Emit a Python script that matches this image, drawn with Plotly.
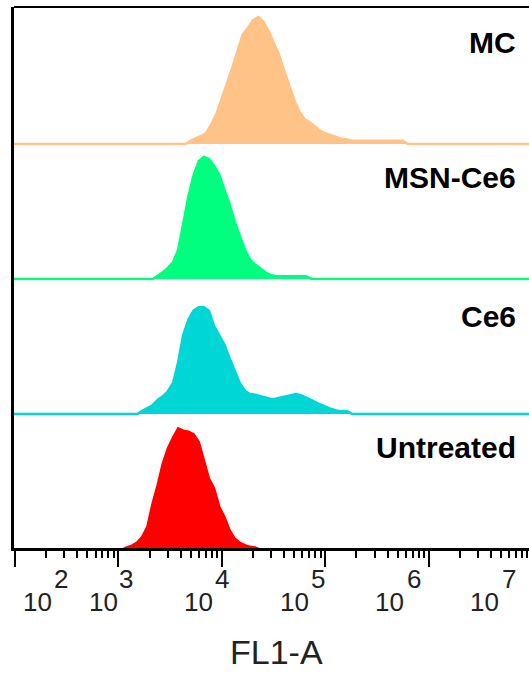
import plotly.graph_objects as go

# ---------------- data (log10 FL1-A bin centres, counts normalised to mode-ish units) ----------------
MC_X = [3.65, 3.70, 3.75, 3.80, 3.85, 3.90, 3.95, 4.00, 4.05, 4.10, 4.15, 4.20, 4.25, 4.30, 4.35,
        4.40, 4.45, 4.50, 4.55, 4.60, 4.65, 4.70, 4.75, 4.80, 4.85, 4.90, 4.95, 5.00, 5.05, 5.10,
        5.15, 5.20, 5.25, 5.30, 5.35, 5.40, 5.45, 5.50, 5.55, 5.60, 5.65, 5.70, 5.75, 5.80]
MC_Y = [0, 2.6, 4.5, 6.3, 8.9, 15.8, 24.2, 35.3, 47.9, 59.7, 72.9, 86.0, 91.3, 97.3, 100.0,
        96.5, 89.4, 80.0, 71.0, 58.4, 46.6, 34.7, 25.5, 19.5, 17.1, 13.7, 10.5, 8.4, 7.3, 5.8,
        4.2, 3.7, 2.6, 2.6, 2.6, 2.6, 2.6, 2.6, 2.6, 2.6, 2.6, 2.6, 2.6, 0]

MSN_X = [3.330, 3.379, 3.429, 3.478, 3.528, 3.578, 3.627, 3.677, 3.726, 3.776, 3.826, 3.875,
         3.925, 3.975, 4.024, 4.074, 4.123, 4.173, 4.223, 4.272, 4.322, 4.371, 4.421, 4.471,
         4.520, 4.570, 4.619, 4.669, 4.719, 4.768, 4.818, 4.867]
MSN_Y = [0, 2.6, 5.3, 8.7, 13.1, 23.1, 44.1, 65.1, 81.3, 92.7, 96.1, 94.5,
         89.2, 82.1, 70.3, 59.3, 45.4, 33.6, 23.1, 15.2, 11.3, 8.4, 5.3, 3.1,
         2.1, 2.1, 2.1, 2.1, 2.1, 2.1, 2.1, 0]

CE6_X = [3.181, 3.230, 3.280, 3.330, 3.379, 3.429, 3.478, 3.528, 3.578, 3.627, 3.677, 3.726,
         3.776, 3.826, 3.875, 3.925, 3.975, 4.024, 4.074, 4.123, 4.173, 4.223, 4.272, 4.322,
         4.371, 4.421, 4.471, 4.520, 4.570, 4.619, 4.669, 4.719, 4.768, 4.818, 4.867, 4.917,
         4.967, 5.016, 5.066, 5.116, 5.165, 5.215, 5.264]
CE6_Y = [0, 2.6, 4.7, 6.9, 11.0, 13.9, 17.9, 24.4, 40.9, 62.4, 74.3, 81.3,
         84.0, 84.0, 81.3, 69.1, 62.0, 54.6, 44.1, 33.6, 24.4, 18.3, 15.7, 15.2,
         14.4, 13.1, 11.8, 12.0, 13.1, 13.9, 15.2, 15.7, 14.7, 13.1, 11.0, 8.7,
         6.9, 5.3, 3.7, 2.6, 2.1, 2.1, 0]

UNT_X = [3.032, 3.081, 3.131, 3.181, 3.230, 3.280, 3.330, 3.379, 3.429, 3.478, 3.528, 3.578,
         3.627, 3.677, 3.726, 3.776, 3.826, 3.875, 3.925, 3.975, 4.024, 4.074, 4.123, 4.173,
         4.223, 4.272, 4.322, 4.371]
UNT_Y = [0, 1.6, 3.1, 5.5, 10.0, 17.9, 36.2, 50.6, 67.7, 79.5, 88.2, 95.3,
         93.5, 92.7, 90.8, 84.8, 69.1, 55.9, 48.0, 33.6, 25.7, 15.2, 8.7, 5.3,
         3.4, 2.1, 1.6, 0]

SAMPLE_NAMES = ["MC", "MSN-Ce6", "Ce6", "Untreated"]
TICK_BASE = ["10", "10", "10", "10", "10", "10"]
TICK_EXP = ["2", "3", "4", "5", "6", "7"]
X_TITLE = "FL1-A"

# ---------------- styling / layout ----------------
COLORS = ["#FFC387", "#00FF7F", "#00D6D6", "#FF0000"]
X_RANGE = [1.99, 6.97]
SCALE_EDGES = (1.9, 7.1)
DOMAINS = [[0.744, 1.0], [0.4945, 0.744], [0.2449, 0.4945], [0.0, 0.2449]]
YRANGES = [[-1.18, 107.9], [-1.18, 105.1], [-1.18, 105.1], [1.2, 105.5]]
LABEL_Y = [0.9335, 0.6848, 0.4288, 0.1858]
BASE_POS = [2.221, 2.857, 3.771, 4.700, 5.619, 6.538]
EXP_POS = [2.446, 3.077, 4.005, 4.930, 5.858, 6.777]
MID_TICKS = [5e2, 5e3, 5e4, 5e5, 5e6]
FONT = "Arial, Liberation Sans, sans-serif"

series = [(MC_X, MC_Y), (MSN_X, MSN_Y), (CE6_X, CE6_Y), (UNT_X, UNT_Y)]

fig = go.Figure()
for i, (xs, ys) in enumerate(series):
    yname = "y" if i == 0 else f"y{i+1}"
    xx = [SCALE_EDGES[0]] + list(xs) + [SCALE_EDGES[1]]
    yy = [0] + list(ys) + [0]
    fig.add_trace(go.Scatter(
        x=[10 ** v for v in xx], y=yy, mode="lines",
        line=dict(color=COLORS[i], width=2.5),
        fill="tozeroy", fillcolor=COLORS[i],
        xaxis="x", yaxis=yname, showlegend=False, hoverinfo="skip",
        name=SAMPLE_NAMES[i],
    ))

layout = dict(
    width=529, height=673,
    margin=dict(l=14, r=0, t=7, b=125),
    paper_bgcolor="white", plot_bgcolor="white",
    showlegend=False,
    font=dict(family=FONT, color="black"),
    xaxis=dict(
        type="log", range=X_RANGE, anchor="y4",
        showline=True, linecolor="black", linewidth=3,
        ticks="outside", ticklen=16, tickwidth=2, tickcolor="black",
        dtick=1, tick0=0, showticklabels=False,
        showgrid=False, zeroline=False,
        minor=dict(ticks="outside", ticklen=7, tickwidth=1.5, tickcolor="black",
                   dtick="D1", showgrid=False),
    ),
    xaxis2=dict(
        type="log", range=X_RANGE, anchor="y4", overlaying="x",
        showline=True, linecolor="black", linewidth=3,
        ticks="outside", ticklen=11, tickwidth=1.5, tickcolor="black",
        tickmode="array", tickvals=MID_TICKS, showticklabels=False,
        showgrid=False, zeroline=False,
    ),
)
for i in range(4):
    key = "yaxis" if i == 0 else f"yaxis{i+1}"
    layout[key] = dict(
        domain=DOMAINS[i], range=YRANGES[i], anchor="x",
        showline=True, linecolor="black", linewidth=3,
        showticklabels=False, ticks="", showgrid=False, zeroline=False,
    )

annotations = []
for i, name in enumerate(SAMPLE_NAMES):
    annotations.append(dict(
        text="<b>%s</b>" % name, xref="paper", yref="paper",
        x=0.9777, y=LABEL_Y[i], xanchor="right", yanchor="middle",
        showarrow=False, font=dict(size=30, color="black", family=FONT),
    ))
for b, e, bp, ep in zip(TICK_BASE, TICK_EXP, BASE_POS, EXP_POS):
    annotations.append(dict(
        text=b, xref="x", yref="paper", x=bp, y=-0.1007,
        xanchor="center", yanchor="middle", showarrow=False,
        font=dict(size=26, color="#222222", family=FONT),
    ))
    annotations.append(dict(
        text=e, xref="x", yref="paper", x=ep, y=-0.0582,
        xanchor="center", yanchor="middle", showarrow=False,
        font=dict(size=26, color="#222222", family=FONT),
    ))
annotations.append(dict(
    text=X_TITLE, xref="paper", yref="paper", x=(276.5 - 14) / 515, y=-0.193,
    xanchor="center", yanchor="middle", showarrow=False,
    font=dict(size=34, color="#222222", family=FONT),
))
layout["annotations"] = annotations
layout["shapes"] = [dict(type="line", xref="paper", yref="paper", x0=0, x1=1, y0=1, y1=1,
                         line=dict(color="black", width=2))]

fig.update_layout(**layout)
fig.write_html("out.html")
